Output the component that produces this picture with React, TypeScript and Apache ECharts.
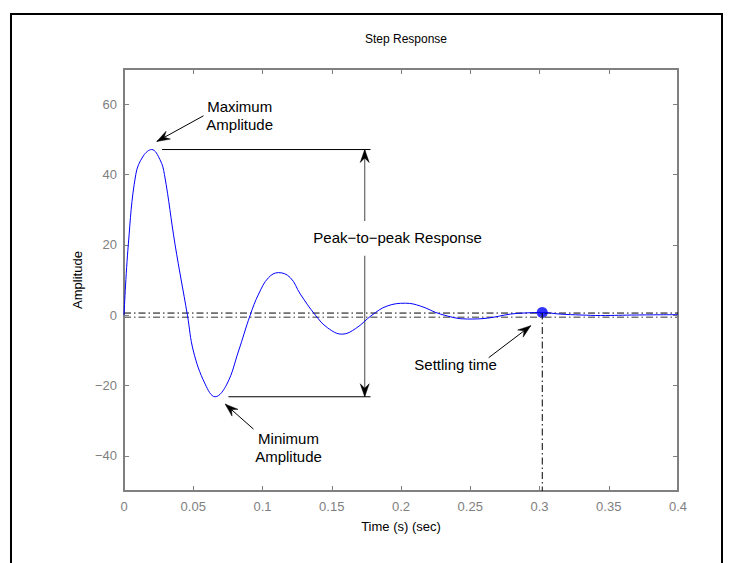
import React, { useEffect, useRef } from "react";
import * as echarts from "echarts";

// ---- data ----
const timeS = [0, 0.0031, 0.0085, 0.014, 0.02, 0.026, 0.0292, 0.0369, 0.0458, 0.0501, 0.0586, 0.0658, 0.0743, 0.0827, 0.0911, 0.0972, 0.1044, 0.1116, 0.12, 0.1273, 0.1382, 0.147, 0.1575, 0.1673, 0.179, 0.19, 0.2033, 0.214, 0.2286, 0.248, 0.2623, 0.279, 0.291, 0.302, 0.315, 0.33, 0.344, 0.37, 0.4];
const amplitude = [0, 20, 40, 45.3, 47.1, 44.2, 40, 20, 0, -10.2, -19.6, -23.2, -19.6, -10.2, 0, 6, 10.7, 12.1, 10.7, 6, 0, -3.6, -5.4, -3.8, 0, 2.6, 3.4, 2.6, 0.3, -1.1, -0.85, 0.3, 0.65, 0.75, 0.3, 0.05, -0.1, 0.05, 0.15];
const yTickValues = [-40, -20, 0, 20, 40, 60];
const xRange = [0, 0.4];
const yRange = [-50, 70];
const xInterval = 0.05;

const peakPoint = [0.02, 47.1];
const minPoint = [0.0658, -23.2];
const settlingPoint = [0.302, 0.75];
const bandUpper = 0.6;
const bandLower = -0.6;

// annotation anchors (data coordinates)
const peakLineX = [0.0275, 0.178];
const minLineX = [0.0754, 0.178];
const p2pArrowX = 0.1738;
const p2pGap = [26.8, 16.9];
const p2pLabel = { text: "Peak\u2212to\u2212peak Response", at: [0.1975, 22.1] };
const maxLabel = { text: "Maximum\nAmplitude", at: [0.0835, 56.8] };
const maxArrow = [[0.0574, 56.7], [0.0237, 49.4]];
const minLabel = { text: "Minimum\nAmplitude", at: [0.1188, -37.5] };
const minArrow = [[0.0935, -32.4], [0.0731, -25.3]];
const settleLabel = { text: "Settling time", at: [0.2394, -14.1] };
const settleArrow = [[0.2633, -12.1], [0.2937, -3.0]];

const FONT = '"Liberation Sans", Arial, Helvetica, sans-serif';
const AXIS_GRAY = "#808080";

function arrowHead(tip: number[], tail: number[], L = 13, W = 9) {
  const dx = tip[0] - tail[0];
  const dy = tip[1] - tail[1];
  const len = Math.hypot(dx, dy) || 1;
  const ux = dx / len, uy = dy / len;
  const nx = -uy, ny = ux;
  const bx = tip[0] - ux * L, by = tip[1] - uy * L;
  const notch = [tip[0] - ux * L * 0.65, tip[1] - uy * L * 0.65];
  return {
    type: "polygon",
    shape: { points: [tip, [bx + nx * W / 2, by + ny * W / 2], notch, [bx - nx * W / 2, by - ny * W / 2]] },
    style: { fill: "#000", stroke: "#000", lineWidth: 0.5 },
    silent: true,
  };
}

export default function App() {
  const ref = useRef<HTMLDivElement>(null);
  useEffect(() => {
    if (!ref.current) return;
    const chart = echarts.init(ref.current, null, { renderer: "svg" });
    const dashDot = [7, 3, 1.5, 3];
    const tickLabelStyle = { color: AXIS_GRAY, fontSize: 13, fontFamily: FONT };
    const axisLine = { show: true, onZero: false, lineStyle: { color: AXIS_GRAY, width: 2 } };
    chart.setOption({
      animation: false,
      backgroundColor: "#fff",
      title: {
        text: "Step Response",
        left: 401,
        top: 28,
        textAlign: "center",
        textStyle: { fontSize: 12, fontWeight: "normal", color: "#000", fontFamily: FONT },
      },
      grid: { left: 124, right: 56, top: 69, bottom: 72 },
      xAxis: [
        {
          type: "value",
          min: xRange[0],
          max: xRange[1],
          interval: xInterval,
          name: "Time (s) (sec)",
          nameLocation: "middle",
          nameGap: 29,
          nameTextStyle: { color: "#000", fontSize: 13, fontFamily: FONT },
          axisLine,
          axisTick: { inside: true, length: 5, lineStyle: { color: AXIS_GRAY } },
          axisLabel: { ...tickLabelStyle, margin: 9 },
          splitLine: { show: false },
        },
        {
          type: "value",
          position: "top",
          min: xRange[0],
          max: xRange[1],
          interval: xInterval,
          axisLine,
          axisTick: { inside: true, length: 5, lineStyle: { color: AXIS_GRAY } },
          axisLabel: { show: false },
          splitLine: { show: false },
        },
      ],
      yAxis: [
        {
          type: "value",
          min: yRange[0],
          max: yRange[1],
          name: "Amplitude",
          nameLocation: "middle",
          nameGap: 30,
          nameTextStyle: { color: "#000", fontSize: 13, fontFamily: FONT },
          axisLine,
          axisTick: { show: true, inside: true, length: 5, customValues: yTickValues, lineStyle: { color: AXIS_GRAY } },
          axisLabel: {
            ...tickLabelStyle,
            margin: 7,
            customValues: yTickValues,
            formatter: (v: number) => String(v).replace("-", "\u2212"),
          },
          splitLine: { show: false },
        },
        {
          type: "value",
          position: "right",
          min: yRange[0],
          max: yRange[1],
          axisLine,
          axisTick: { show: true, inside: true, length: 5, customValues: yTickValues, lineStyle: { color: AXIS_GRAY } },
          axisLabel: { show: false },
          splitLine: { show: false },
        },
      ],
      series: [
        {
          type: "line",
          name: "band upper",
          data: [[xRange[0], bandUpper], [xRange[1], bandUpper]],
          showSymbol: false,
          lineStyle: { color: "#000", width: 1, type: dashDot },
          silent: true,
        },
        {
          type: "line",
          name: "band lower",
          data: [[xRange[0], bandLower], [xRange[1], bandLower]],
          showSymbol: false,
          lineStyle: { color: "#777", width: 1.5, type: dashDot },
          silent: true,
        },
        {
          type: "line",
          name: "settling",
          data: [[settlingPoint[0], settlingPoint[1]], [settlingPoint[0], yRange[0]]],
          showSymbol: false,
          lineStyle: { color: "#000", width: 1, type: dashDot },
          silent: true,
        },
        {
          type: "line",
          name: "step",
          data: timeS.map((t, i) => [t, amplitude[i]]),
          smooth: 0.4,
          showSymbol: false,
          lineStyle: { color: "#0000ff", width: 1 },
          silent: true,
        },
        {
          type: "line",
          name: "peak line",
          data: [[peakLineX[0], peakPoint[1]], [peakLineX[1], peakPoint[1]]],
          showSymbol: false,
          lineStyle: { color: "#000", width: 1 },
          silent: true,
        },
        {
          type: "line",
          name: "min line",
          data: [[minLineX[0], minPoint[1]], [minLineX[1], minPoint[1]]],
          showSymbol: false,
          lineStyle: { color: "#000", width: 1 },
          silent: true,
        },
        {
          type: "scatter",
          name: "settling point",
          data: [settlingPoint],
          symbolSize: 11,
          itemStyle: { color: "#0000ff" },
          silent: true,
        },
      ],
    });

    const px = (p: number[]) => chart.convertToPixel({ xAxisIndex: 0, yAxisIndex: 0 }, p) as number[];
    const graphics: any[] = [];
    graphics.push({
      type: "rect",
      shape: { x: 11, y: 14, width: 711, height: 620 },
      style: { fill: "none", stroke: "#000", lineWidth: 2 },
      silent: true,
    });
    const addText = (lbl: { text: string; at: number[] }) => {
      const p = px(lbl.at);
      graphics.push({
        type: "text",
        x: p[0],
        y: p[1],
        style: { text: lbl.text, fill: "#000", fontSize: 15, fontFamily: FONT, align: "center", verticalAlign: "middle", lineHeight: 18 },
        silent: true,
      });
    };
    const addArrow = (a: number[][]) => {
      const tail = px(a[0]);
      const tip = px(a[1]);
      graphics.push({ type: "line", shape: { x1: tail[0], y1: tail[1], x2: tip[0], y2: tip[1] }, style: { stroke: "#000", lineWidth: 1 }, silent: true });
      graphics.push(arrowHead(tip, tail));
    };
    addText(maxLabel);
    addText(minLabel);
    addText(settleLabel);
    addText(p2pLabel);
    addArrow(maxArrow);
    addArrow(minArrow);
    addArrow(settleArrow);
    // vertical peak-to-peak double arrow
    const top = px([p2pArrowX, peakPoint[1]]);
    const gapTop = px([p2pArrowX, p2pGap[0]]);
    const gapBot = px([p2pArrowX, p2pGap[1]]);
    const bot = px([p2pArrowX, minPoint[1]]);
    graphics.push({ type: "line", shape: { x1: top[0], y1: top[1], x2: gapTop[0], y2: gapTop[1] }, style: { stroke: "#666", lineWidth: 1.2 }, silent: true });
    graphics.push({ type: "line", shape: { x1: gapBot[0], y1: gapBot[1], x2: bot[0], y2: bot[1] }, style: { stroke: "#666", lineWidth: 1.2 }, silent: true });
    graphics.push(arrowHead(top, gapTop));
    graphics.push(arrowHead(bot, gapBot));
    chart.setOption({ graphic: graphics });

    return () => chart.dispose();
  }, []);
  return <div ref={ref} style={{ position: "fixed", left: 0, top: 0, width: 734, height: 563 }} />;
}
